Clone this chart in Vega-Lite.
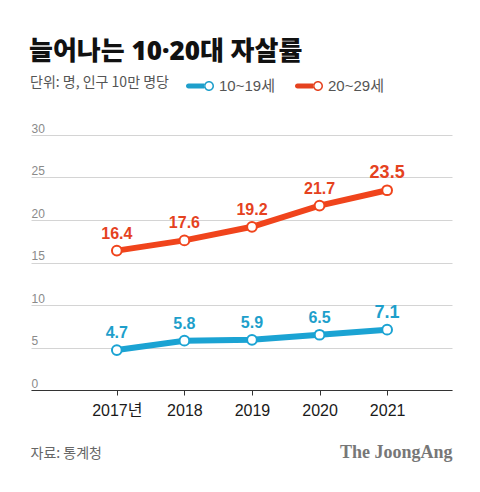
{
  "$schema": "https://vega.github.io/schema/vega-lite/v6.json",
  "autosize": {"type": "none"},
  "width": 421,
  "height": 255,
  "padding": {"left": 31, "top": 135, "right": 28, "bottom": 102},
  "background": "#ffffff",
  "title": {
    "text": "늘어나는 10·20대 자살률",
    "anchor": "start",
    "font": "Noto Sans, Noto Sans CJK KR",
    "fontSize": 26,
    "fontWeight": 900,
    "color": "#111111",
    "dx": -1,
    "offset": 7
  },
  "data": {
    "values": [
      {"year": 2017, "group": "10~19세", "value": 4.7},
      {"year": 2018, "group": "10~19세", "value": 5.8},
      {"year": 2019, "group": "10~19세", "value": 5.9},
      {"year": 2020, "group": "10~19세", "value": 6.5},
      {"year": 2021, "group": "10~19세", "value": 7.1},
      {"year": 2017, "group": "20~29세", "value": 16.4},
      {"year": 2018, "group": "20~29세", "value": 17.6},
      {"year": 2019, "group": "20~29세", "value": 19.2},
      {"year": 2020, "group": "20~29세", "value": 21.7},
      {"year": 2021, "group": "20~29세", "value": 23.5}
    ]
  },
  "encoding": {
    "x": {
      "field": "year",
      "type": "quantitative",
      "scale": {"domain": [2015.73, 2021.96], "nice": false, "zero": false},
      "axis": {
        "values": [2017, 2018, 2019, 2020, 2021],
        "format": "d",
        "labelExpr": "datum.value == 2017 ? '2017년' : datum.label",
        "labelFont": "Liberation Sans, Noto Sans CJK KR",
        "labelFontSize": 16,
        "labelColor": "#1a1a1a",
        "labelPadding": 7,
        "labelFlush": false,
        "grid": false,
        "domainColor": "#333333",
        "tickColor": "#333333",
        "tickSize": 5,
        "zindex": 1,
        "title": "자료: 통계청",
        "titleFont": "Noto Sans CJK KR",
        "titleFontSize": 14,
        "titleFontWeight": "normal",
        "titleColor": "#666666",
        "titleAlign": "left",
        "titleBaseline": "alphabetic",
        "titleX": -1,
        "titleY": 67
      }
    },
    "y": {
      "field": "value",
      "type": "quantitative",
      "scale": {"domain": [0, 30], "nice": false},
      "axis": {
        "values": [0, 5, 10, 15, 20, 25, 30],
        "grid": true,
        "gridColor": "#d4d4d4",
        "domain": false,
        "ticks": false,
        "tickSize": 0,
        "labelAlign": "left",
        "labelBaseline": "alphabetic",
        "labelPadding": 0,
        "labelOffset": -3,
        "labelFont": "Liberation Sans",
        "labelFontSize": 12,
        "labelColor": "#8a8a8a",
        "title": "The JoongAng",
        "titleAngle": 0,
        "titleFont": "Liberation Serif",
        "titleFontSize": 18,
        "titleFontWeight": "bold",
        "titleColor": "#777777",
        "titleAlign": "right",
        "titleBaseline": "alphabetic",
        "titleX": 421,
        "titleY": 322
      }
    }
  },
  "layer": [
    {
      "mark": {"type": "line", "strokeWidth": 6},
      "encoding": {
        "color": {
          "field": "group",
          "type": "nominal",
          "scale": {"domain": ["10~19세", "20~29세"], "range": ["#1ba3d3", "#f0441c"]},
          "legend": {
            "orient": "none",
            "legendX": -1,
            "legendY": -63,
            "direction": "horizontal",
            "padding": 0,
            "title": "단위: 명, 인구 10만 명당",
            "titleOrient": "left",
            "titleFont": "Noto Sans CJK KR",
            "titleFontSize": 14,
            "titleFontWeight": "normal",
            "titleColor": "#555555",
            "titleBaseline": "middle",
            "titlePadding": 17,
            "labelFont": "Liberation Sans, Noto Sans CJK KR",
            "labelFontSize": 15,
            "labelColor": "#555555",
            "labelOffset": 5,
            "columnPadding": 20,
            "symbolType": "M-0.82,-0.18 L0.3,-0.18 L0.3,0.18 L-0.82,0.18 A0.18,0.18 0 0 1 -0.82,-0.18 Z M0.286,0 A0.357,0.357 0 1 0 1,0 A0.357,0.357 0 1 0 0.286,0 Z M0.393,0 A0.25,0.25 0 1 1 0.893,0 A0.25,0.25 0 1 1 0.393,0 Z",
            "symbolSize": 784,
            "symbolStrokeWidth": 0,
            "encode": {
              "symbols": {
                "update": {
                  "fill": {"scale": "color", "field": "value"},
                  "stroke": {"value": "transparent"},
                  "fillOpacity": {"value": 1}
                }
              }
            }
          }
        }
      }
    },
    {
      "mark": {"type": "point", "filled": true, "fill": "#ffffff", "size": 95, "strokeWidth": 2, "opacity": 1},
      "encoding": {
        "stroke": {
          "field": "group",
          "type": "nominal",
          "scale": {"domain": ["10~19세", "20~29세"], "range": ["#1ba3d3", "#f0441c"]},
          "legend": null
        }
      }
    },
    {
      "mark": {"type": "text", "font": "Liberation Sans", "fontWeight": "bold", "baseline": "alphabetic", "dy": -12},
      "encoding": {
        "text": {"field": "value", "type": "quantitative", "format": ".1f"},
        "fill": {
          "field": "group",
          "type": "nominal",
          "scale": {"domain": ["10~19세", "20~29세"], "range": ["#1e9fcb", "#e5421f"]},
          "legend": null
        },
        "size": {"condition": {"test": "datum.year == 2021", "value": 18}, "value": 16}
      }
    }
  ],
  "config": {
    "view": {"stroke": null}
  }
}
